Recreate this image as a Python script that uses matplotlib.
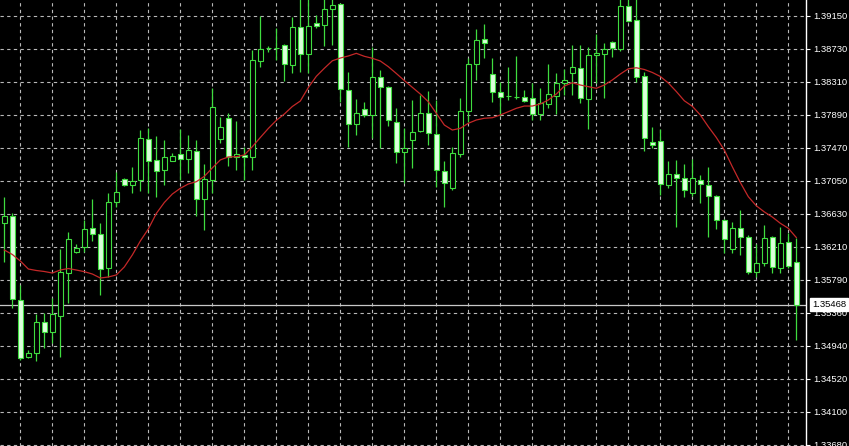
import matplotlib
matplotlib.use("Agg")
import matplotlib.pyplot as plt

# OHLC, one entry per bar
opens = [1.36514, 1.36600, 1.35529, 1.34806, 1.34849, 1.35242, 1.35125, 1.35331, 1.35879, 1.36147,
         1.36205, 1.36443, 1.36366, 1.35943, 1.36772, 1.37068, 1.36991, 1.37059, 1.37578, 1.37310,
         1.37186, 1.37305, 1.37390, 1.37323, 1.37432, 1.36820, 1.37059, 1.37578, 1.37846, 1.37348,
         1.37378, 1.37348, 1.38580, 1.38742, 1.38738, 1.38780, 1.38521, 1.39006, 1.38665, 1.39057,
         1.39035, 1.39235, 1.39303, 1.38206, 1.37769, 1.37960, 1.37888, 1.38368, 1.38241, 1.37802,
         1.37419, 1.37569, 1.37687, 1.37909, 1.37642, 1.37177, 1.36953, 1.37390, 1.37939, 1.38534,
         1.38857, 1.38410, 1.38177, 1.38136, 1.38123, 1.38117, 1.38101, 1.37900, 1.38028, 1.38134,
         1.38292, 1.38419, 1.38483, 1.38096, 1.38653, 1.38665, 1.38815, 1.38725, 1.39278, 1.39099,
         1.38385, 1.37547, 1.37550, 1.37001, 1.37132, 1.37081, 1.36897, 1.37059, 1.36995, 1.36855,
         1.36549, 1.36176, 1.36443, 1.36328, 1.35890, 1.36004, 1.36336, 1.35941, 1.36264, 1.36016]
highs = [1.36838, 1.36638, 1.35720, 1.34891, 1.35354, 1.35369, 1.35550, 1.36183, 1.36396, 1.36249,
         1.36549, 1.36813, 1.36511, 1.36899, 1.37157, 1.37084, 1.37225, 1.37696, 1.37718, 1.37620,
         1.37569, 1.37407, 1.37705, 1.37633, 1.37569, 1.37263, 1.38236, 1.37866, 1.37909, 1.37815,
         1.37483, 1.38716, 1.39150, 1.38768, 1.38993, 1.38787, 1.39133, 1.39392, 1.39380, 1.39163,
         1.39380, 1.39367, 1.39316, 1.38440, 1.38088, 1.38057, 1.38759, 1.38461, 1.38257, 1.37973,
         1.37718, 1.38079, 1.38143, 1.38198, 1.38079, 1.37301, 1.37476, 1.38101, 1.38611, 1.38980,
         1.39048, 1.38611, 1.38312, 1.38504, 1.38640, 1.38206, 1.38299, 1.38228, 1.38538, 1.38419,
         1.38470, 1.38780, 1.38780, 1.38751, 1.38921, 1.38802, 1.38835, 1.39392, 1.39380, 1.39367,
         1.38440, 1.37739, 1.37705, 1.37305, 1.37314, 1.37263, 1.37323, 1.37123, 1.37228, 1.36868,
         1.36558, 1.36527, 1.36676, 1.36357, 1.36243, 1.36485, 1.36345, 1.36463, 1.36387, 1.36316]
lows = [1.36017, 1.35427, 1.34764, 1.34785, 1.34757, 1.34913, 1.34977, 1.34806, 1.35490, 1.36124,
        1.36141, 1.36281, 1.35592, 1.35818, 1.36718, 1.36982, 1.36899, 1.36922, 1.36897, 1.36846,
        1.36995, 1.37301, 1.37059, 1.37144, 1.36600, 1.36421, 1.36897, 1.37534, 1.37237, 1.37186,
        1.37059, 1.37186, 1.38504, 1.38691, 1.38589, 1.38325, 1.38419, 1.38440, 1.38427, 1.38993,
        1.38768, 1.38780, 1.38057, 1.37483, 1.37633, 1.37866, 1.37590, 1.37463, 1.37747, 1.37272,
        1.37024, 1.37208, 1.37675, 1.37505, 1.36973, 1.36718, 1.36931, 1.37356, 1.37802, 1.38334,
        1.38611, 1.38057, 1.37875, 1.38079, 1.38088, 1.38057, 1.37824, 1.37824, 1.37973, 1.37900,
        1.38143, 1.38143, 1.38037, 1.37705, 1.38292, 1.38101, 1.38631, 1.38707, 1.39077, 1.38312,
        1.37432, 1.37463, 1.36868, 1.36957, 1.36463, 1.36846, 1.36855, 1.36762, 1.36328, 1.36430,
        1.36132, 1.36124, 1.36103, 1.35860, 1.35818, 1.35962, 1.35869, 1.35877, 1.35933, 1.35019]
closes = [1.36600, 1.35541, 1.34793, 1.34857, 1.35244, 1.35125, 1.35354, 1.35886, 1.36303, 1.36198,
          1.36434, 1.36366, 1.35930, 1.36776, 1.36903, 1.36995, 1.37040, 1.37590, 1.37305, 1.37177,
          1.37348, 1.37369, 1.37323, 1.37441, 1.36813, 1.37068, 1.37986, 1.37735, 1.37348, 1.37390,
          1.37348, 1.38589, 1.38725, 1.38736, 1.38736, 1.38534, 1.39006, 1.38665, 1.39022, 1.39022,
          1.39235, 1.39290, 1.38215, 1.37769, 1.37909, 1.37888, 1.38368, 1.38241, 1.37824, 1.37419,
          1.37463, 1.37675, 1.37909, 1.37654, 1.37186, 1.37024, 1.37399, 1.37939, 1.38534, 1.38844,
          1.38810, 1.38185, 1.38121, 1.38130, 1.38117, 1.38070, 1.37900, 1.38037, 1.38152, 1.38292,
          1.38334, 1.38496, 1.38101, 1.38653, 1.38682, 1.38725, 1.38738, 1.39278, 1.39090, 1.38376,
          1.37590, 1.37505, 1.37004, 1.37135, 1.37081, 1.36931, 1.37081, 1.37008, 1.36855, 1.36549,
          1.36303, 1.36443, 1.36328, 1.35890, 1.35997, 1.36316, 1.35946, 1.36259, 1.35962, 1.35468]

# moving average (red line)
ma = [1.36166, 1.36109, 1.36026, 1.35924, 1.35905, 1.35892, 1.35873, 1.35911, 1.35930, 1.35911,
      1.35890, 1.35860, 1.35809, 1.35822, 1.35848, 1.35950, 1.36103, 1.36281, 1.36434, 1.36632,
      1.36772, 1.36880, 1.36953, 1.37008, 1.37037, 1.37105, 1.37213, 1.37315, 1.37353, 1.37356,
      1.37378, 1.37483, 1.37601, 1.37716, 1.37819, 1.37900, 1.37996, 1.38066, 1.38238, 1.38381,
      1.38483, 1.38579, 1.38614, 1.38640, 1.38674, 1.38636, 1.38611, 1.38576, 1.38504, 1.38417,
      1.38327, 1.38241, 1.38155, 1.38057, 1.37909, 1.37760, 1.37696, 1.37718, 1.37782, 1.37824,
      1.37846, 1.37853, 1.37888, 1.37930, 1.37973, 1.38002, 1.38002, 1.38028, 1.38079, 1.38155,
      1.38257, 1.38299, 1.38270, 1.38249, 1.38228, 1.38270, 1.38334, 1.38410, 1.38477, 1.38490,
      1.38468, 1.38430, 1.38379, 1.38296, 1.38187, 1.38069, 1.37999, 1.37888, 1.37739, 1.37601,
      1.37441, 1.37228, 1.37027, 1.36846, 1.36730, 1.36652, 1.36587, 1.36507, 1.36443, 1.36325]

tick_labels = ["1.39150", "1.38730", "1.38310", "1.37890", "1.37470", "1.37050", "1.36630",
               "1.36210", "1.35790", "1.35360", "1.34940", "1.34520", "1.34100", "1.33680"]
last_price = 1.35468

green = "#3fdc3f"
bear_fill = "#dcffdc"
grid_col = "#b8b8b8"

fig = plt.figure(figsize=(8.49, 4.46), dpi=100, facecolor="black")
ax = fig.add_axes([0, 0, 806 / 849, 1])
ax.set_facecolor("black")

n = len(closes)
xs = list(range(n))

# grid
step = (1.39150 - 1.33680) / 13
tick_pos = [1.39150 - i * step for i in range(len(tick_labels))]
for y in tick_pos:
    ax.axhline(y, color=grid_col, lw=0.8, dashes=(3, 3), zorder=0)
for k in range(2, n, 4):
    ax.axvline(k, color=grid_col, lw=0.8, dashes=(3, 3), zorder=0)

# last price line
ax.axhline(last_price, color="#c8c8c8", lw=0.9, zorder=1)

# candles
ax.vlines(xs, lows, highs, color=green, lw=0.9, zorder=2)
for k in xs:
    o, c = opens[k], closes[k]
    bottom = min(o, c)
    h = max(abs(c - o), 0.00002)
    fill = "black" if c >= o else bear_fill
    ax.bar(k, h, bottom=bottom, width=0.56, color=fill, edgecolor=green,
           linewidth=0.8, zorder=3)

ax.plot(xs, ma, color="#c42828", lw=0.9, zorder=4)

ax.set_xlim(-0.54, 100.21)
ax.set_ylim(1.33667, 1.39354)
ax.set_xticks([])

ax.yaxis.tick_right()
ax.set_yticks(tick_pos)
ax.set_yticklabels(tick_labels, family="Liberation Sans", fontsize=6.8, color="white")
ax.tick_params(axis="y", colors="white", length=3, width=0.8, pad=2, labelcolor="white")
for s in ["left", "top", "bottom"]:
    ax.spines[s].set_visible(False)
ax.spines["right"].set_color("white")
ax.spines["right"].set_linewidth(1.0)

ax.annotate("1.35468", xy=(1.0, last_price), xycoords=("axes fraction", "data"),
            xytext=(4.2, 0), textcoords="offset points", va="center", ha="left",
            family="Liberation Sans", fontsize=6.8, color="black", annotation_clip=False,
            bbox=dict(boxstyle="square,pad=0.2", fc="white", ec="white"), zorder=10)

fig.savefig("out.png", dpi=100, facecolor="black")
